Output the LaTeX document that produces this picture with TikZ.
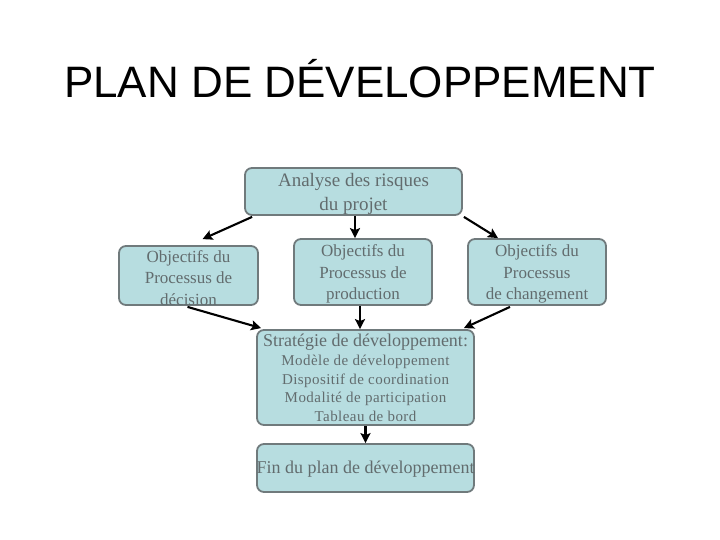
\documentclass[tikz,border=0pt]{standalone}
\usepackage{fontspec}
\setmainfont{Liberation Serif}
\newfontfamily\titlefont{Liberation Sans}
\usetikzlibrary{arrows.meta,calc}
\definecolor{boxfill}{RGB}{183,221,224}
\definecolor{boxline}{RGB}{112,122,124}
\definecolor{boxtext}{RGB}{98,108,110}
\tikzset{
  box/.style={draw=boxline, line width=1.8pt, fill=boxfill, rounded corners=7pt,
    text=boxtext, align=center, inner sep=0pt, font=\fontsize{18}{22}\selectfont},
  arr/.style={draw=black, line width=2.1pt, -{Stealth[length=10pt,width=10pt,inset=2pt]}},
}
\begin{document}
\begin{tikzpicture}[x=1pt,y=-1pt]
\useasboundingbox (0,0) rectangle (720,540);
\node[font=\titlefont\fontsize{44}{50}\selectfont] (title) at (360,79) {PLAN DE DÉVELOPPEMENT};
\node[box, minimum width=217pt, minimum height=47pt] (analyse) at (353.5,191.5) {};
\node[text=boxtext, align=center, font=\fontsize{19}{24}\selectfont] at (353.5,194) {Analyse des risques\\du projet};
\node[box, minimum width=139pt, minimum height=59pt] (dec) at (188.5,275.5) {};
\node[text=boxtext, align=center, font=\fontsize{17}{21.5}\selectfont] at (188.5,278) {Objectifs du\\Processus de\\décision};
\node[box, minimum width=138pt, minimum height=66pt] (prod) at (363,272) {};
\node[text=boxtext, align=center, font=\fontsize{17}{21.5}\selectfont] at (363,274) {Objectifs du\\Processus de\\production};
\node[box, minimum width=138pt, minimum height=66pt] (chg) at (537,272) {};
\node[text=boxtext, align=center, font=\fontsize{17}{21.5}\selectfont] at (537,274) {Objectifs du\\Processus\\de changement};
\node[box, minimum width=217pt, minimum height=95pt] (strat) at (365.5,377.5) {};
\node[text=boxtext, align=center, font=\fontsize{15}{18.5}\selectfont\addfontfeature{LetterSpace=3}] at (365.5,377.5)
  {{\fontsize{18}{20}\selectfont\addfontfeature{LetterSpace=0}Stratégie de développement:}\\[1pt]Modèle de développement\\Dispositif de coordination\\Modalité de participation\\Tableau de bord};
\node[box, minimum width=217pt, minimum height=48pt] (fin) at (365.5,468) {};
\node[text=boxtext, font=\fontsize{18}{22}\selectfont] at (365.5,469) {Fin du plan de développement};
\draw[arr] ([xshift=8pt,yshift=-1pt]analyse.south west) -- ([xshift=14pt,yshift=6pt]dec.north);
\draw[arr] ([xshift=1.5pt]analyse.south) -- ([xshift=-8pt]prod.north);
\draw[arr] ([xshift=1pt,yshift=-1pt]analyse.south east) -- ([xshift=-39pt]chg.north);
\draw[arr] ([xshift=-1pt,yshift=-1pt]dec.south) -- ([xshift=5pt,yshift=1pt]strat.north west);
\draw[arr] ([xshift=-3pt]prod.south) -- ([xshift=-5.5pt]strat.north);
\draw[arr] ([xshift=-27pt,yshift=-1pt]chg.south) -- ([xshift=-11pt,yshift=1pt]strat.north east);
\draw[arr] (strat.south) -- (fin.north);
\end{tikzpicture}
\end{document}
